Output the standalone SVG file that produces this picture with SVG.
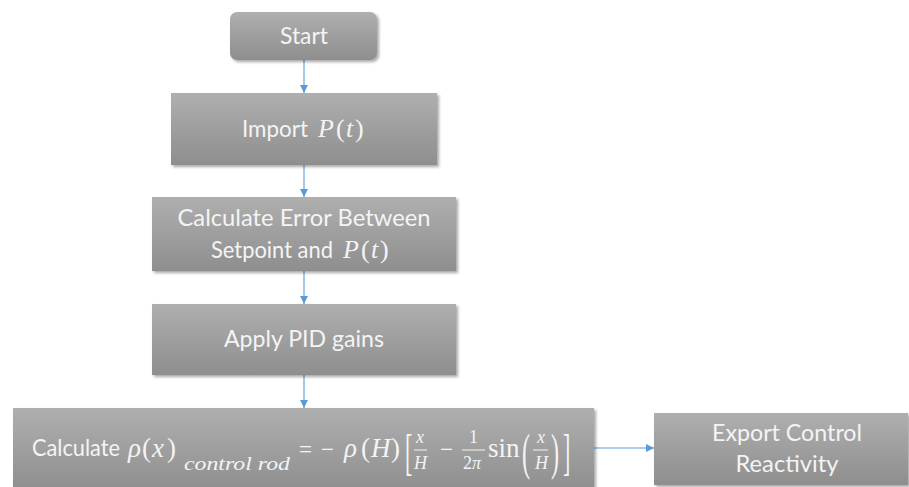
<svg xmlns="http://www.w3.org/2000/svg" width="909" height="487" viewBox="0 0 909 487">
  <style>
    .box { fill: url(#boxFill); filter: url(#shadow); }
    .label { font-family: Lato, "Liberation Sans", sans-serif; font-size: 24px; fill: #f4f4f4; }
    .math { font-family: "Liberation Serif", "DejaVu Serif", serif; fill: #f4f4f4; }
    .mi { font-style: italic; }
    .big { font-size: 27px; }
    .op { font-size: 23px; }
    .small { font-size: 18px; }
    .edge { stroke: #5b9bd5; stroke-width: 1.1; fill: none; marker-end: url(#arrow); }
    .bar { stroke: #f4f4f4; stroke-width: 1; }
  </style>
  <defs>
    <linearGradient id="boxFill" x1="0" y1="0" x2="0" y2="1">
      <stop offset="0" stop-color="#afafaf"/>
      <stop offset="1" stop-color="#8e8e8e"/>
    </linearGradient>
    <filter id="shadow" x="-5%" y="-10%" width="115%" height="130%">
      <feGaussianBlur in="SourceAlpha" stdDeviation="1.5"/>
      <feOffset dx="1.5" dy="2" result="blur"/>
      <feComponentTransfer><feFuncA type="linear" slope="0.35"/></feComponentTransfer>
      <feMerge><feMergeNode/><feMergeNode in="SourceGraphic"/></feMerge>
    </filter>
    <marker id="arrow" viewBox="0 0 8 8" refX="8" refY="4" markerWidth="8" markerHeight="8" markerUnits="userSpaceOnUse" orient="auto">
      <path d="M0,0 L8,4 L0,8 z" fill="#5b9bd5"/>
    </marker>
  </defs>

  <rect width="909" height="487" fill="#ffffff"/>

  <!-- connectors -->
  <g id="connectors">
    <line class="edge" x1="304" y1="60" x2="304" y2="93"/>
    <line class="edge" x1="304" y1="165" x2="304" y2="197"/>
    <line class="edge" x1="304" y1="271" x2="304" y2="304"/>
    <line class="edge" x1="304" y1="375" x2="304" y2="408"/>
    <line class="edge" x1="594" y1="448" x2="654" y2="448"/>
  </g>

  <!-- start -->
  <g id="start">
    <rect class="box" x="230" y="12" width="147" height="48" rx="7"/>
    <text class="label" x="304" y="44" text-anchor="middle" textLength="48" lengthAdjust="spacingAndGlyphs">Start</text>
  </g>

  <!-- import P(t) -->
  <g id="import">
    <rect class="box" x="171" y="93" width="266" height="72"/>
    <text class="label" x="242" y="137" textLength="66" lengthAdjust="spacingAndGlyphs">Import</text>
    <text class="math" font-size="26" y="137">
      <tspan class="mi" x="318">P</tspan><tspan x="336">(</tspan><tspan class="mi" x="346">t</tspan><tspan x="355">)</tspan>
    </text>
  </g>

  <!-- error between setpoint and P(t) -->
  <g id="error">
    <rect class="box" x="152" y="197" width="304" height="74"/>
    <text class="label" x="304" y="226" text-anchor="middle" textLength="253" lengthAdjust="spacingAndGlyphs">Calculate Error Between</text>
    <text class="label" x="211" y="258" textLength="122" lengthAdjust="spacingAndGlyphs">Setpoint and</text>
    <text class="math" font-size="26" y="258">
      <tspan class="mi" x="343">P</tspan><tspan x="361">(</tspan><tspan class="mi" x="371">t</tspan><tspan x="380">)</tspan>
    </text>
  </g>

  <!-- PID gains -->
  <g id="pid">
    <rect class="box" x="152" y="304" width="304" height="71"/>
    <text class="label" x="304" y="347" text-anchor="middle" textLength="160" lengthAdjust="spacingAndGlyphs">Apply PID gains</text>
  </g>

  <!-- control rod reactivity -->
  <g id="reactivity">
    <rect class="box" x="13" y="408" width="581" height="84"/>
    <text class="label" x="32" y="456" textLength="88" lengthAdjust="spacingAndGlyphs">Calculate</text>
    <text class="math big" y="457">
      <tspan class="mi" x="128">ρ</tspan><tspan x="142">(</tspan><tspan class="mi" x="152">x</tspan><tspan x="167">)</tspan>
      <tspan class="op" x="299">=</tspan><tspan class="op" x="321">−</tspan>
      <tspan class="mi" x="344">ρ</tspan><tspan x="361">(</tspan><tspan class="mi" x="371">H</tspan><tspan x="391">)</tspan>
      <tspan class="op" x="440">−</tspan>
      <tspan x="488">sin</tspan>
    </text>
    <text class="math mi" font-size="19" x="184" y="470" textLength="106" lengthAdjust="spacingAndGlyphs">control rod</text>
    <!-- stretched delimiters -->
    <text class="math" font-size="26" transform="translate(405,469) scale(0.85,1.95)">[</text>
    <text class="math" font-size="27" transform="translate(522,469) scale(0.9,1.85)">(</text>
    <text class="math" font-size="27" transform="translate(551,469) scale(0.9,1.85)">)</text>
    <text class="math" font-size="26" transform="translate(563,469) scale(0.85,1.95)">]</text>
    <!-- x / H -->
    <text class="math small mi" x="416" y="443">x</text>
    <line class="bar" x1="414" y1="450" x2="427" y2="450"/>
    <text class="math small mi" x="414" y="469">H</text>
    <!-- 1 / 2π -->
    <text class="math small" x="469" y="443">1</text>
    <line class="bar" x1="462" y1="450" x2="485" y2="450"/>
    <text class="math small" x="463" y="469">2<tspan class="mi">π</tspan></text>
    <!-- x / H -->
    <text class="math small mi" x="537" y="443">x</text>
    <line class="bar" x1="533" y1="450" x2="548" y2="450"/>
    <text class="math small mi" x="535" y="469">H</text>
  </g>

  <!-- export -->
  <g id="export">
    <rect class="box" x="654" y="413" width="254" height="72"/>
    <text class="label" x="787" y="441" text-anchor="middle" textLength="150" lengthAdjust="spacingAndGlyphs">Export Control</text>
    <text class="label" x="787" y="472" text-anchor="middle" textLength="103" lengthAdjust="spacingAndGlyphs">Reactivity</text>
  </g>
</svg>
